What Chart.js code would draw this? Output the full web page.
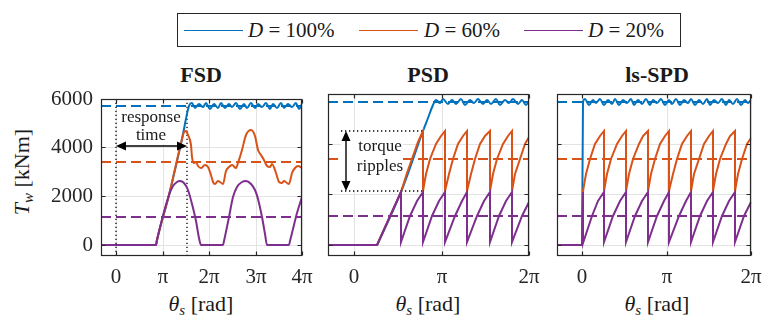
<!DOCTYPE html>
<html>
<head>
<meta charset="utf-8">
<script src="https://cdn.jsdelivr.net/npm/chart.js@4"></script>
<style>
  body { margin: 0; background: #fff; font-family: 'Liberation Serif', 'Times New Roman', serif; }
  #wrap { position: relative; width: 771px; height: 320px; overflow: hidden; color: #1a1a1a;
          font-family: 'Liberation Serif', 'Times New Roman', serif !important; }
  canvas { position: absolute; }
  .t { position: absolute; white-space: nowrap; font-size: 22px; line-height: 22px; }
  .title { font-weight: bold; transform: translateX(-50%); }
  .xl { transform: translateX(-50%); }
  #ylab { left: -38px; top: 161px; width: 120px; text-align: center; transform: rotate(-90deg); }
  #legend { position: absolute; left: 177px; top: 13px; width: 502px; height: 32px; border: 1px solid #262626; }
  .sw { position: absolute; top: 16px; width: 59px; height: 0; border-top: 1.6px solid; }
  .lt { position: absolute; top: 6px; font-size: 21px; line-height: 21px; white-space: nowrap; }
  sub { font-size: 15px; vertical-align: -4px; line-height: 0; }
</style>
</head>
<body>
<div id="wrap">
  <div id="legend"></div>
  <div class="t title" style="left:201px;top:64px">FSD</div>
  <div class="t title" style="left:428px;top:64px">PSD</div>
  <div class="t title" style="left:657px;top:64px">ls-SPD</div>
  <div class="t" id="ylab"><i>T</i><sub><i>w</i></sub> [kNm]</div>
  <div class="t xl" style="left:201px;top:293px"><i>θ</i><sub><i>s</i></sub> [rad]</div>
  <div class="t xl" style="left:428px;top:293px"><i>θ</i><sub><i>s</i></sub> [rad]</div>
  <div class="t xl" style="left:657px;top:293px"><i>θ</i><sub><i>s</i></sub> [rad]</div>
  <canvas id="fsd" width="292" height="212" style="left:30px;top:78px"></canvas>
  <canvas id="psd" width="226" height="212" style="left:323px;top:78px"></canvas>
  <canvas id="spd" width="219" height="212" style="left:552px;top:78px"></canvas>
</div>
<script>
// x values are rotor angle in multiples of pi, y values torque in kNm
const dutyLabels = ['100%', '60%', '20%'];
const colors = ['#0072BD', '#D95319', '#7E2F8E'];
const meanTorque = [5700, 3420, 1140];
const serif = "'Liberation Serif', 'Times New Roman', serif";
Chart.defaults.font.family = serif;

const torqueTicks = [0, 2000, 4000, 6000];
const torqueLabels = ['0', '2000', '4000', '6000'];
const fsdTicks = [0, 1, 2, 3, 4];
const fsdTickLabels = ['0', 'π', '2π', '3π', '4π'];
const spdTicks = [0, 1, 2];
const spdTickLabels = ['0', 'π', '2π'];

// FSD
const fsdBlue = [[-0.33,0],[0.85,0],[0.88,212],[1.14,2050],[1.41,4350],[1.57,5700],[1.62,5820],[1.70,5600],[1.78,5790],[1.86,5640],[1.94,5800],[2.02,5570],[2.10,5780],[2.18,5630],[2.26,5810],[2.34,5600],[2.42,5770],[2.50,5640],[2.58,5800],[2.66,5570],[2.74,5790],[2.82,5630],[2.90,5810],[2.98,5600],[3.06,5770],[3.14,5640],[3.22,5800],[3.30,5570],[3.38,5790],[3.46,5630],[3.54,5810],[3.62,5600],[3.70,5770],[3.78,5640],[3.86,5800],[3.94,5570],[4.0,5760]];
const fsdOrange = [[-0.33,0],[0.85,0],[0.88,212],[1.14,2050],[1.41,4350],[1.46,4630],[1.50,4680],[1.55,4520],[1.60,4100],[1.64,3600],[1.68,3380],[1.71,3420],[1.75,3220],[1.82,3150],[1.90,3260],[1.97,3200],[2.03,2880],[2.08,2600],[2.12,2520],[2.18,2610],[2.24,2580],[2.30,2520],[2.36,3050],[2.42,3200],[2.50,3270],[2.57,3150],[2.62,3350],[2.70,3900],[2.80,4500],[2.90,4700],[2.98,4450],[3.06,3900],[3.12,3700],[3.18,3500],[3.24,3250],[3.30,3200],[3.36,3300],[3.44,2950],[3.50,2600],[3.56,2550],[3.62,2640],[3.68,2560],[3.72,2520],[3.78,2950],[3.84,3150],[3.92,3250],[4.0,3140]];
const fsdPurple = [[-0.33,0],[0.85,0],[0.88,212],[1.14,2050],[1.22,2400],[1.30,2580],[1.375,2620],[1.45,2550],[1.55,2250],[1.64,1700],[1.72,1000],[1.79,300],[1.83,0],[2.29,0],[2.31,160],[2.43,1140],[2.52,1950],[2.60,2380],[2.70,2580],[2.80,2620],[2.90,2520],[2.98,2250],[3.06,1900],[3.13,1140],[3.20,450],[3.25,0],[3.72,0],[3.74,160],[3.80,650],[3.90,1300],[4.0,1980]];
const responseMarks = [0, 1.53];      // dotted lines
const responseArrowLevel = 4060;

// PSD
const psdBlue = [[-0.3,0],[0.26,0],[0.28,150],[0.53,2100],[0.785,4530],[0.84,5050],[0.90,5580],[0.94,5760],[0.98,5650],[1.02,5790],[1.07,5600],[1.12,5770],[1.17,5620],[1.22,5800],[1.27,5560],[1.32,5760],[1.37,5640],[1.42,5790],[1.47,5600],[1.52,5770],[1.57,5620],[1.62,5800],[1.67,5560],[1.72,5760],[1.77,5640],[1.82,5790],[1.87,5600],[1.92,5770],[1.96,5580],[2.0,5720]];
const psdOrange = [[-0.3,0],[0.26,0],[0.53,2100],[0.60,2850],[0.67,3550],[0.73,4100],[0.785,4530],[0.785,2150],
  [0.824,2800],[0.872,3420],[0.935,4000],[0.989,4330],[1.04,4530],[1.04,2150],
  [1.079,2800],[1.127,3420],[1.19,4000],[1.244,4330],[1.295,4530],[1.295,2150],
  [1.334,2800],[1.382,3420],[1.445,4000],[1.499,4330],[1.55,4530],[1.55,2150],
  [1.589,2800],[1.637,3420],[1.70,4000],[1.754,4330],[1.805,4530],[1.805,2150],
  [1.844,2800],[1.892,3420],[1.955,4000],[2.0,4280]];
const psdPurple = [[-0.3,0],[0.26,0],[0.53,2100],[0.53,100],
  [0.64,1140],[0.72,1720],[0.785,2100],[0.785,100],
  [0.895,1140],[0.975,1720],[1.04,2100],[1.04,100],
  [1.15,1140],[1.23,1720],[1.295,2100],[1.295,100],
  [1.405,1140],[1.485,1720],[1.55,2100],[1.55,100],
  [1.66,1140],[1.74,1720],[1.805,2100],[1.805,100],
  [1.915,1140],[2.0,1700]];
const rippleBand = [2150, 4530];      // dotted lines
const rippleSpan = [-0.15, 0.785];
const rippleArrowX = -0.095;

// ls-SPD
const spdBlue = [[-0.3,0],[0,0],[0.004,5700],[0.03,5800],[0.075,5580],[0.12,5780],[0.165,5640],[0.21,5800],[0.255,5560],[0.30,5770],[0.345,5620],[0.39,5800],[0.435,5580],[0.48,5780],[0.525,5640],[0.57,5800],[0.615,5560],[0.66,5770],[0.705,5620],[0.75,5800],[0.795,5580],[0.84,5780],[0.885,5640],[0.93,5800],[0.975,5560],[1.02,5770],[1.065,5620],[1.11,5800],[1.155,5580],[1.20,5780],[1.245,5640],[1.29,5800],[1.335,5560],[1.38,5770],[1.425,5620],[1.47,5800],[1.515,5580],[1.56,5780],[1.605,5640],[1.65,5800],[1.695,5560],[1.74,5770],[1.785,5620],[1.83,5800],[1.875,5580],[1.92,5780],[1.965,5640],[2.0,5760]];
const spdOrange = [[-0.3,0],[0,0],[0.002,2150],[0.039,2800],[0.087,3420],[0.152,4000],[0.206,4330],[0.257,4530],[0.257,2150],
  [0.296,2800],[0.344,3420],[0.409,4000],[0.463,4330],[0.515,4530],[0.515,2150],
  [0.554,2800],[0.602,3420],[0.667,4000],[0.721,4330],[0.772,4530],[0.772,2150],
  [0.811,2800],[0.859,3420],[0.924,4000],[0.978,4330],[1.03,4530],[1.03,2150],
  [1.069,2800],[1.117,3420],[1.182,4000],[1.236,4330],[1.287,4530],[1.287,2150],
  [1.326,2800],[1.374,3420],[1.439,4000],[1.493,4330],[1.545,4530],[1.545,2150],
  [1.584,2800],[1.632,3420],[1.697,4000],[1.751,4330],[1.80,4530],[1.80,2150],
  [1.839,2800],[1.887,3420],[1.952,4000],[2.0,4250]];
const spdPurple = [[-0.3,0],[0,0],[0.002,2100],[0.004,80],
  [0.11,1140],[0.19,1720],[0.257,2100],[0.257,100],
  [0.367,1140],[0.447,1720],[0.515,2100],[0.515,100],
  [0.625,1140],[0.705,1720],[0.772,2100],[0.772,100],
  [0.882,1140],[0.962,1720],[1.03,2100],[1.03,100],
  [1.14,1140],[1.22,1720],[1.287,2100],[1.287,100],
  [1.397,1140],[1.477,1720],[1.545,2100],[1.545,100],
  [1.655,1140],[1.735,1720],[1.80,2100],[1.80,100],
  [1.91,1140],[2.0,1700]];

// legend
const legend = document.getElementById('legend');
const swatchX = [6, 181, 346];
const textX = [70, 246, 410];
dutyLabels.forEach((d, i) => {
  legend.innerHTML += `<div class="sw" style="left:${swatchX[i]}px;border-color:${colors[i]}"></div>` +
    `<div class="lt" style="left:${textX[i]}px"><i>D</i>&nbsp;=&nbsp;${d}</div>`;
});

const pts = arr => arr.map(([x, y]) => ({ x, y }));
const curve = (arr, color, smooth) => ({
  data: pts(arr), borderColor: color, borderWidth: 2, pointRadius: 0, fill: false,
  tension: 0, cubicInterpolationMode: smooth ? 'monotone' : 'default'
});
const dashed = (i, xmin, xmax) => ({
  data: pts([[xmin, meanTorque[i]], [xmax, meanTorque[i]]]), borderColor: colors[i],
  borderWidth: 2, borderDash: [10, 5], pointRadius: 0
});
const dotted = arr => ({
  data: pts(arr), borderColor: '#000', borderWidth: 1.3, borderDash: [1.3, 2.7], pointRadius: 0
});

const notes = {
  fsd: {
    texts: [{ x: 0.75, y: 5190, s: 'response' }, { x: 0.75, y: 4460, s: 'time' }],
    textBg: true,
    arrows: [[responseMarks[0], responseArrowLevel, responseMarks[1], responseArrowLevel]],
    boxes: []
  },
  psd: {
    texts: [{ x: 0.29, y: 3870, s: 'torque' }, { x: 0.29, y: 3075, s: 'ripples' }],
    textBg: false,
    arrows: [[rippleArrowX, rippleBand[1], rippleArrowX, rippleBand[0]]],
    boxes: [[rippleSpan[0], 0.56, rippleBand[0], rippleBand[1]]]
  },
  spd: { texts: [], arrows: [], boxes: [] }
};

function arrowHead(ctx, x, y, ang) {
  ctx.beginPath();
  ctx.moveTo(x, y);
  ctx.lineTo(x - 10 * Math.cos(ang) + 4.5 * Math.sin(ang), y - 10 * Math.sin(ang) - 4.5 * Math.cos(ang));
  ctx.lineTo(x - 10 * Math.cos(ang) - 4.5 * Math.sin(ang), y - 10 * Math.sin(ang) + 4.5 * Math.cos(ang));
  ctx.closePath();
  ctx.fill();
}

const frame = {
  id: 'frame',
  afterDatasetDraw(chart, args) {
    // white patches go right above the dashed mean lines
    if (args.index !== chart.data.datasets.length - 3) return;
    const n = notes[chart.canvas.id], { ctx } = chart, { x, y } = chart.scales;
    ctx.save();
    ctx.fillStyle = '#fff';
    n.boxes.forEach(([x1, x2, y1, y2]) => {
      const l = x.getPixelForValue(x1), r = x.getPixelForValue(x2);
      const t = y.getPixelForValue(y2), b = y.getPixelForValue(y1);
      ctx.fillRect(l, t, r - l, b - t);
    });
    if (n.textBg) {
      ctx.font = '17px ' + serif;
      n.texts.forEach(tx => {
        const w = ctx.measureText(tx.s).width + 2;
        ctx.fillRect(x.getPixelForValue(tx.x) - w / 2, y.getPixelForValue(tx.y) - 9, w, 17);
      });
    }
    ctx.restore();
  },
  afterDatasetsDraw(chart) {
    const n = notes[chart.canvas.id], { ctx } = chart, { x, y } = chart.scales;
    ctx.save();
    ctx.fillStyle = '#000';
    ctx.strokeStyle = '#000';
    ctx.lineWidth = 1.4;
    n.arrows.forEach(([x1, y1, x2, y2]) => {
      const ax = x.getPixelForValue(x1), ay = y.getPixelForValue(y1);
      const bx = x.getPixelForValue(x2), by = y.getPixelForValue(y2);
      const ang = Math.atan2(by - ay, bx - ax);
      ctx.beginPath();
      ctx.moveTo(ax + 8 * Math.cos(ang), ay + 8 * Math.sin(ang));
      ctx.lineTo(bx - 8 * Math.cos(ang), by - 8 * Math.sin(ang));
      ctx.stroke();
      arrowHead(ctx, bx, by, ang);
      arrowHead(ctx, ax, ay, ang + Math.PI);
    });
    ctx.fillStyle = '#1a1a1a';
    ctx.font = '17px ' + serif;
    ctx.textAlign = 'center';
    ctx.textBaseline = 'middle';
    n.texts.forEach(tx => ctx.fillText(tx.s, x.getPixelForValue(tx.x), y.getPixelForValue(tx.y)));
    ctx.restore();
  },
  afterDraw(chart) {
    const { ctx, chartArea: a } = chart, { x, y } = chart.scales;
    const l = Math.round(a.left) + 0.5, r = Math.round(a.right) - 0.5;
    const t = Math.round(a.top) + 0.5, b = Math.round(a.bottom) - 0.5;
    ctx.save();
    ctx.strokeStyle = '#262626';
    ctx.lineWidth = 1.2;
    ctx.strokeRect(l, t, r - l, b - t);
    ctx.beginPath();
    x.ticks.forEach(tk => {
      const p = Math.round(x.getPixelForValue(tk.value)) + 0.5;
      ctx.moveTo(p, b); ctx.lineTo(p, b - 4);
      ctx.moveTo(p, t); ctx.lineTo(p, t + 4);
    });
    y.ticks.forEach(tk => {
      const p = Math.round(y.getPixelForValue(tk.value)) + 0.5;
      ctx.moveTo(l, p); ctx.lineTo(l + 4, p);
      ctx.moveTo(r, p); ctx.lineTo(r - 4, p);
    });
    ctx.stroke();
    ctx.restore();
  }
};

function makePanel(id, series, smooth, extra, xr, ticks, tickLabels, yWidth, padRight, showY) {
  const datasets = [
    curve(series[2], colors[2], smooth[2]),
    curve(series[1], colors[1], smooth[1]),
    curve(series[0], colors[0], smooth[0]),
    ...extra.map(dotted),
    dashed(2, xr[0], xr[1]), dashed(1, xr[0], xr[1]), dashed(0, xr[0], xr[1])
  ];
  new Chart(document.getElementById(id), {
    type: 'line',
    data: { datasets },
    plugins: [frame],
    options: {
      responsive: false, animation: false, devicePixelRatio: 1,
      layout: { padding: { top: 16, right: padRight, left: 0, bottom: 0 } },
      plugins: { legend: { display: false }, tooltip: { enabled: false } },
      scales: {
        x: {
          type: 'linear', min: xr[0], max: xr[1], alignToPixels: true,
          afterBuildTicks: s => { s.ticks = ticks.map(v => ({ value: v })); },
          afterFit: s => { s.height = 34; },
          ticks: { callback: v => tickLabels[ticks.indexOf(v)], maxRotation: 0, autoSkip: false,
                   padding: 9, color: '#262626', font: { family: serif, size: 21 } },
          grid: { color: '#e3e3e3', drawTicks: false },
          border: { display: false }
        },
        y: {
          type: 'linear', min: -450, max: 6000, alignToPixels: true,
          afterBuildTicks: s => { s.ticks = torqueTicks.map(v => ({ value: v })); },
          afterFit: s => { s.width = yWidth; },
          ticks: { display: showY, callback: v => torqueLabels[torqueTicks.indexOf(v)],
                   padding: 8, color: '#262626', font: { family: serif, size: 21 } },
          grid: { color: '#e3e3e3', drawTicks: false },
          border: { display: false }
        }
      }
    }
  });
}

function drawAll() {
  makePanel('fsd', [fsdBlue, fsdOrange, fsdPurple], [true, true, true],
    responseMarks.map(m => [[m, -450], [m, 6000]]),
    [-0.33, 4], fsdTicks, fsdTickLabels, 71, 20, true);
  makePanel('psd', [psdBlue, psdOrange, psdPurple], [true, false, false],
    rippleBand.map(v => [[rippleSpan[0], v], [rippleSpan[1], v]]),
    [-0.3, 2], spdTicks, spdTickLabels, 5, 20, false);
  makePanel('spd', [spdBlue, spdOrange, spdPurple], [true, false, false], [],
    [-0.3, 2], spdTicks, spdTickLabels, 5, 13, false);
}

if (document.fonts && document.fonts.load) {
  Promise.all([
    document.fonts.load("21px 'Liberation Serif'"),
    document.fonts.load("bold 22px 'Liberation Serif'"),
    document.fonts.load("italic 22px 'Liberation Serif'")
  ]).then(drawAll, drawAll);
} else {
  drawAll();
}
</script>
</body>
</html>
